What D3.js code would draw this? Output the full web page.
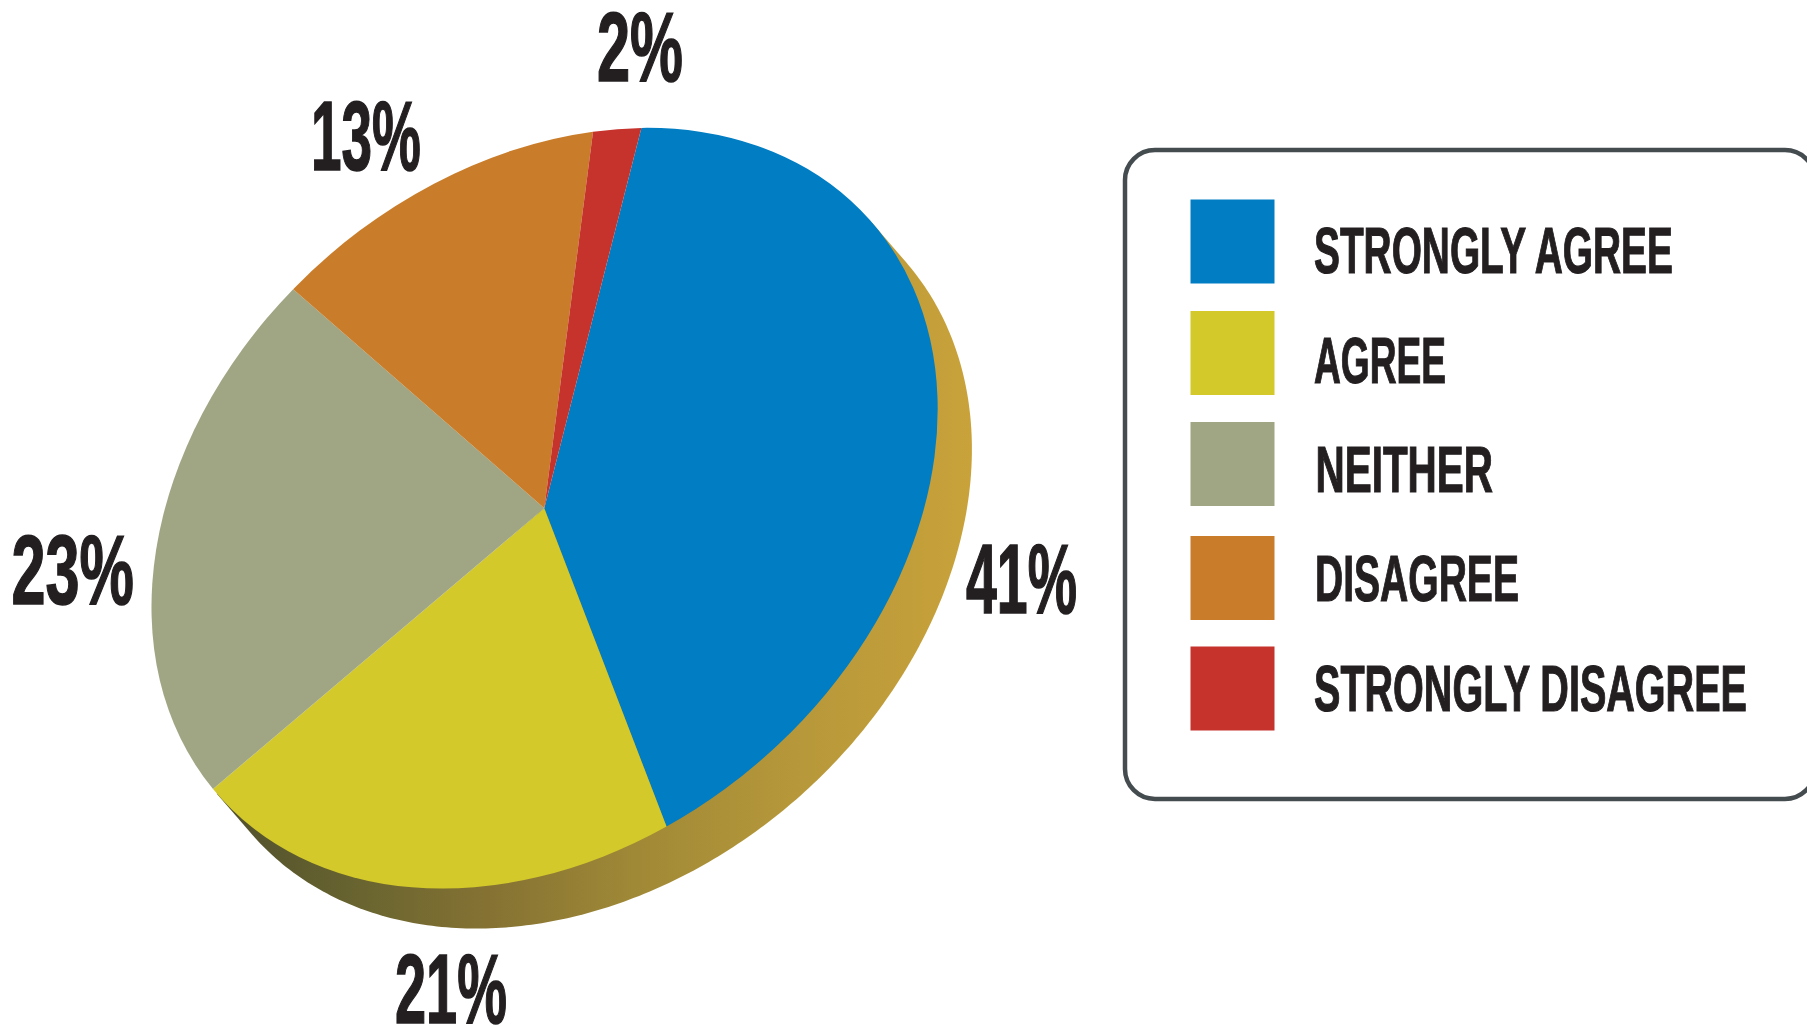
<!DOCTYPE html>
<html><head><meta charset="utf-8">
<script src="https://cdn.jsdelivr.net/npm/d3@7/dist/d3.min.js"></script>
<style>html,body{margin:0;padding:0;background:#fff;overflow:hidden}svg{display:block}</style>
</head><body><svg id="c" width="1807" height="1026"></svg>
<script>
const categories = ["STRONGLY AGREE","AGREE","NEITHER","DISAGREE","STRONGLY DISAGREE"];
const values = [41,21,23,13,2];
const colors = ["#017dc3","#d3c92b","#a0a583","#c97d2a","#c6332c"];

// layout
const center = [544.3,508.2];
const M = {a:393,b:-99.1,c:0,d:367.2};
const wallOffset = [34.6,40];
const startDeg = 14.3;
const labelBox = [[966,1077,613],[395,507,1023],[11.5,134,604],[311,421,170],[597,683,81]];
const legendBaseline = [273,383,492,601,711];
const legendSwatchTop = [199.5,311,422,536,646.5];
const legendTextX = [[1314,1673],[1314,1446],[1315.5,1493],[1315,1519],[1314,1747]];
const INK = "#231f20";
const FONT = "'Liberation Sans Narrow','Liberation Sans',Arial,sans-serif";

const svg = d3.select("#c");
const defs = svg.append("defs");

// wall gradient (screen coordinates)
const grad = defs.append("linearGradient").attr("id","wall")
  .attr("gradientUnits","userSpaceOnUse").attr("x1",214).attr("x2",975).attr("y1",0).attr("y2",0);
[[0,"#4f4f2c"],[0.2,"#6a6530"],[0.36,"#857233"],[0.55,"#9f8836"],[0.75,"#b5973a"],[1,"#c9a23a"]]
  .forEach(([o,c])=>grad.append("stop").attr("offset",o).attr("stop-color",c));

// tangent points of the extrusion
const det = M.a*M.d-M.b*M.c;
const u = [(M.d*wallOffset[0]-M.c*wallOffset[1])/det,(-M.b*wallOffset[0]+M.a*wallOffset[1])/det];
const phi0 = Math.atan2(u[1],u[0])-Math.PI/2;
const ell = (p,off)=>[center[0]+off[0]+M.a*Math.cos(p)+M.c*Math.sin(p),
                      center[1]+off[1]+M.b*Math.cos(p)+M.d*Math.sin(p)];
const wallPts = [ell(phi0,[0,0])].concat(d3.range(0,241).map(i=>ell(phi0+i/240*Math.PI,wallOffset)),[ell(phi0+Math.PI,[0,0])]);
svg.append("path").attr("d",d3.line()(wallPts)+"Z").attr("fill","url(#wall)");

// top face
const s0 = startDeg*Math.PI/180;
const pie = d3.pie().sort(null).startAngle(s0).endAngle(s0+2*Math.PI);
const arc = d3.arc().innerRadius(0).outerRadius(1);
svg.append("g").attr("transform",`matrix(${M.a} ${M.b} ${M.c} ${M.d} ${center[0]} ${center[1]})`)
  .selectAll("path").data(pie(values)).join("path")
  .attr("d",arc).attr("fill",(d,i)=>colors[i]);

// fit a text horizontally into [x0,x1] on a baseline with a given font size
function fit(sel,x0,x1,base,size,sw){
  sel.attr("font-family",FONT).attr("font-weight",700).attr("font-size",size)
     .attr("fill",INK).attr("stroke",INK).attr("stroke-width",sw).attr("x",0).attr("y",0);
  const b = sel.node().getBBox();
  const k = (x1-x0)/b.width;
  sel.attr("transform",`translate(${x0-b.x*k},${base}) scale(${k},1)`);
}

// percentage labels
values.forEach((v,i)=>{
  const [x0,x1,base]=labelBox[i];
  fit(svg.append("text").text(v+"%"),x0,x1,base,98,1.6);
});

// legend
svg.append("rect").attr("x",1125).attr("y",150).attr("width",690).attr("height",649).attr("rx",30).attr("ry",30)
  .attr("fill","none").attr("stroke","#444c50").attr("stroke-width",4.5);
categories.forEach((c,i)=>{
  svg.append("rect").attr("x",1190.5).attr("y",legendSwatchTop[i]).attr("width",84).attr("height",84).attr("fill",colors[i]);
  fit(svg.append("text").text(c),legendTextX[i][0],legendTextX[i][1],legendBaseline[i],65,1.2);
});
</script></body></html>
